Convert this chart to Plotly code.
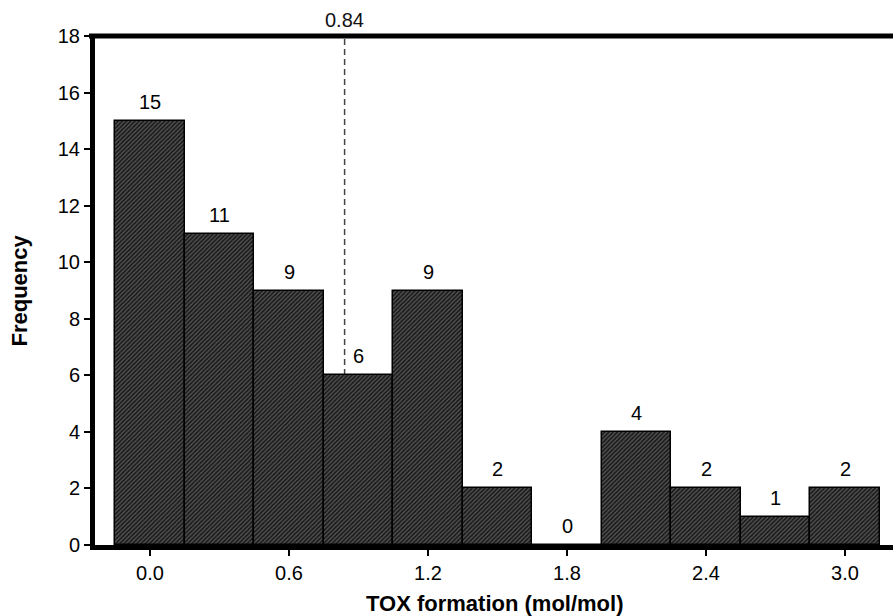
import plotly.graph_objects as go

bin_centers = [0.0, 0.3, 0.6, 0.9, 1.2, 1.5, 1.8, 2.1, 2.4, 2.7, 3.0]
frequencies = [15, 11, 9, 6, 9, 2, 0, 4, 2, 1, 2]
bin_width = 0.3
x_ticks = [0.0, 0.6, 1.2, 1.8, 2.4, 3.0]
y_ticks = [0, 2, 4, 6, 8, 10, 12, 14, 16, 18]
mean_value = 0.84

FONT = "Liberation Sans, Arial, sans-serif"

fig = go.Figure()
fig.add_trace(go.Bar(
    x=bin_centers, y=frequencies, width=bin_width,
    marker=dict(
        color="#1a1a1a",
        line=dict(color="black", width=1.5),
        pattern=dict(shape="/", fgcolor="#5a5a5a", bgcolor="#1a1a1a",
                     size=3, solidity=0.4, fillmode="replace"),
    ),
    showlegend=False, hoverinfo="x+y",
))

for xc, v in zip(bin_centers, frequencies):
    fig.add_annotation(x=xc, y=v, text=str(v), showarrow=False,
                       yanchor="bottom", yshift=6,
                       font=dict(family=FONT, size=20, color="black"))

# mean line
fig.add_shape(type="line", x0=mean_value, x1=mean_value, y0=0, y1=18,
              xref="x", yref="y", layer="below",
              line=dict(color="#444444", width=1.5, dash="6px,4px"))
fig.add_annotation(x=mean_value, y=1, xref="x", yref="paper",
                   text=f"{mean_value:.2f}", showarrow=False,
                   yanchor="bottom", yshift=3,
                   font=dict(family=FONT, size=20, color="#111111"))

# top border
fig.add_shape(type="line", x0=-6/798, x1=1, y0=1, y1=1, xref="paper", yref="paper",
              line=dict(color="black", width=5))

fig.add_annotation(x=0.5, y=-(603-545)/509, xref="paper", yref="paper",
                   text="<b>TOX formation (mol/mol)</b>", showarrow=False,
                   xanchor="center", yanchor="middle",
                   font=dict(family=FONT, size=22, color="black"))
fig.add_annotation(x=(19-95)/798, y=0.5, xref="paper", yref="paper",
                   text="<b>Frequency</b>", showarrow=False, textangle=-90,
                   xanchor="center", yanchor="middle",
                   font=dict(family=FONT, size=22, color="black"))

fig.update_layout(
    width=893, height=616,
    margin=dict(l=95, r=0, t=36, b=71),
    plot_bgcolor="white", paper_bgcolor="white",
    bargap=0,
    font=dict(family=FONT, size=20, color="black"),
    xaxis=dict(range=[-0.2374, 3.2072], tickvals=x_ticks,
               ticktext=[f"{t:.1f}" for t in x_ticks],
               showgrid=False, zeroline=False,
               showline=True, linecolor="black", linewidth=5,
               ticks="outside", ticklen=6, tickwidth=1.5, tickcolor="black",
               tickfont=dict(family=FONT, size=20, color="black")),
    yaxis=dict(range=[0, 18], tickvals=y_ticks,
               showgrid=False, zeroline=False,
               showline=True, linecolor="black", linewidth=5,
               ticks="outside", ticklen=6, tickwidth=1.5, tickcolor="black",
               tickfont=dict(family=FONT, size=20, color="black")),
)

fig.write_html("out.html", config={"displayModeBar": False},
               post_script="document.body.style.margin='0px';document.body.style.padding='0px';")
